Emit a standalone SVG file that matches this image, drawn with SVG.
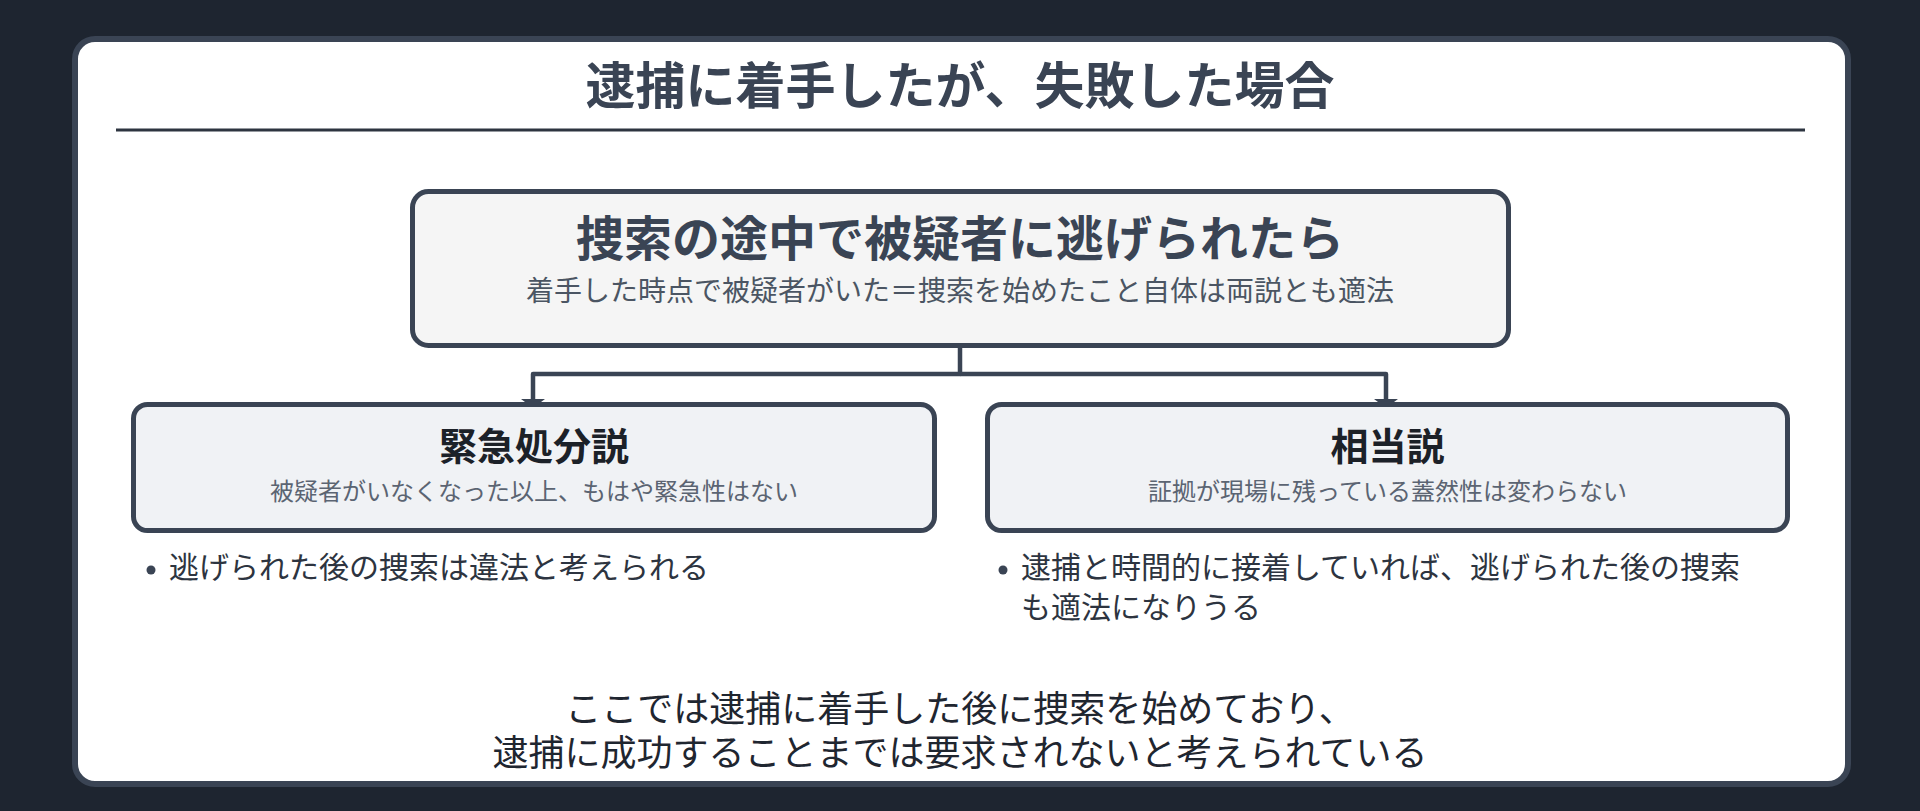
<svg xmlns="http://www.w3.org/2000/svg" width="1920" height="811" viewBox="0 0 1920 811">
<style>
text { font-family: "Noto Sans CJK JP", "Noto Sans", sans-serif; }
.title { font-size: 50px; font-weight: 700; fill: #3a4454; text-anchor: middle; }
.mainT { font-size: 48px; font-weight: 700; fill: #3a4454; text-anchor: middle; }
.mainS { font-size: 28px; fill: #4b5563; text-anchor: middle; }
.subT { font-size: 38px; font-weight: 700; fill: #1c2128; text-anchor: middle; }
.subS { font-size: 24px; fill: #5b6472; text-anchor: middle; }
.bul { font-size: 30px; fill: #2d3440; }
.foot { font-size: 36px; fill: #1f2630; text-anchor: middle; }
.box { stroke: #3a4454; stroke-width: 5; }
.conn { fill: none; stroke: #3a4454; stroke-width: 4.5; stroke-linejoin: round; }
</style>
<defs>
<marker id="arr" markerUnits="userSpaceOnUse" viewBox="0 0 9 24" markerWidth="9" markerHeight="24" refX="9" refY="12" orient="auto">
<path d="M0 0 L9 12 L0 24 Z" fill="#3a4454"/>
</marker>
</defs>
<rect x="0" y="0" width="1920" height="811" fill="#1e2530"/>
<rect x="75" y="39" width="1773" height="745" rx="20" fill="#ffffff" stroke="#3a4454" stroke-width="6"/>
<text class="title" x="960" y="104">逮捕に着手したが、失敗した場合</text>
<line x1="116" y1="130" x2="1805" y2="130" stroke="#2d3440" stroke-width="3"/>
<g id="connectors">
<path class="conn" d="M960 347 V374 H533 V408" marker-end="url(#arr)"/>
<path class="conn" d="M960 374 H1386 V408" marker-end="url(#arr)"/>
</g>
<g id="node-main">
<rect class="box" x="412.5" y="191.5" width="1096" height="154" rx="16" fill="#f5f5f5"/>
<text class="mainT" x="960" y="256">捜索の途中で被疑者に逃げられたら</text>
<text class="mainS" x="960" y="301">着手した時点で被疑者がいた＝捜索を始めたこと自体は両説とも適法</text>
</g>
<g id="node-kinkyu">
<rect class="box" x="133.5" y="404.5" width="801" height="126" rx="14" fill="#f0f2f5"/>
<text class="subT" x="534" y="460">緊急処分説</text>
<text class="subS" x="534" y="500">被疑者がいなくなった以上、もはや緊急性はない</text>
</g>
<g id="node-soto">
<rect class="box" x="987.5" y="404.5" width="800" height="126" rx="14" fill="#f0f2f5"/>
<text class="subT" x="1387.5" y="460">相当説</text>
<text class="subS" x="1387.5" y="500">証拠が現場に残っている蓋然性は変わらない</text>
</g>
<g id="bullet-left">
<circle cx="151" cy="570" r="4.5" fill="#3a4454"/>
<text class="bul" x="169" y="578">逃げられた後の捜索は違法と考えられる</text>
</g>
<g id="bullet-right">
<circle cx="1003" cy="570" r="4.5" fill="#3a4454"/>
<text class="bul" x="1021" y="578">逮捕と時間的に接着していれば、逃げられた後の捜索</text>
<text class="bul" x="1021" y="618">も適法になりうる</text>
</g>
<g id="footer">
<text class="foot" x="960" y="722">ここでは逮捕に着手した後に捜索を始めており、</text>
<text class="foot" x="960" y="766">逮捕に成功することまでは要求されないと考えられている</text>
</g>
</svg>
